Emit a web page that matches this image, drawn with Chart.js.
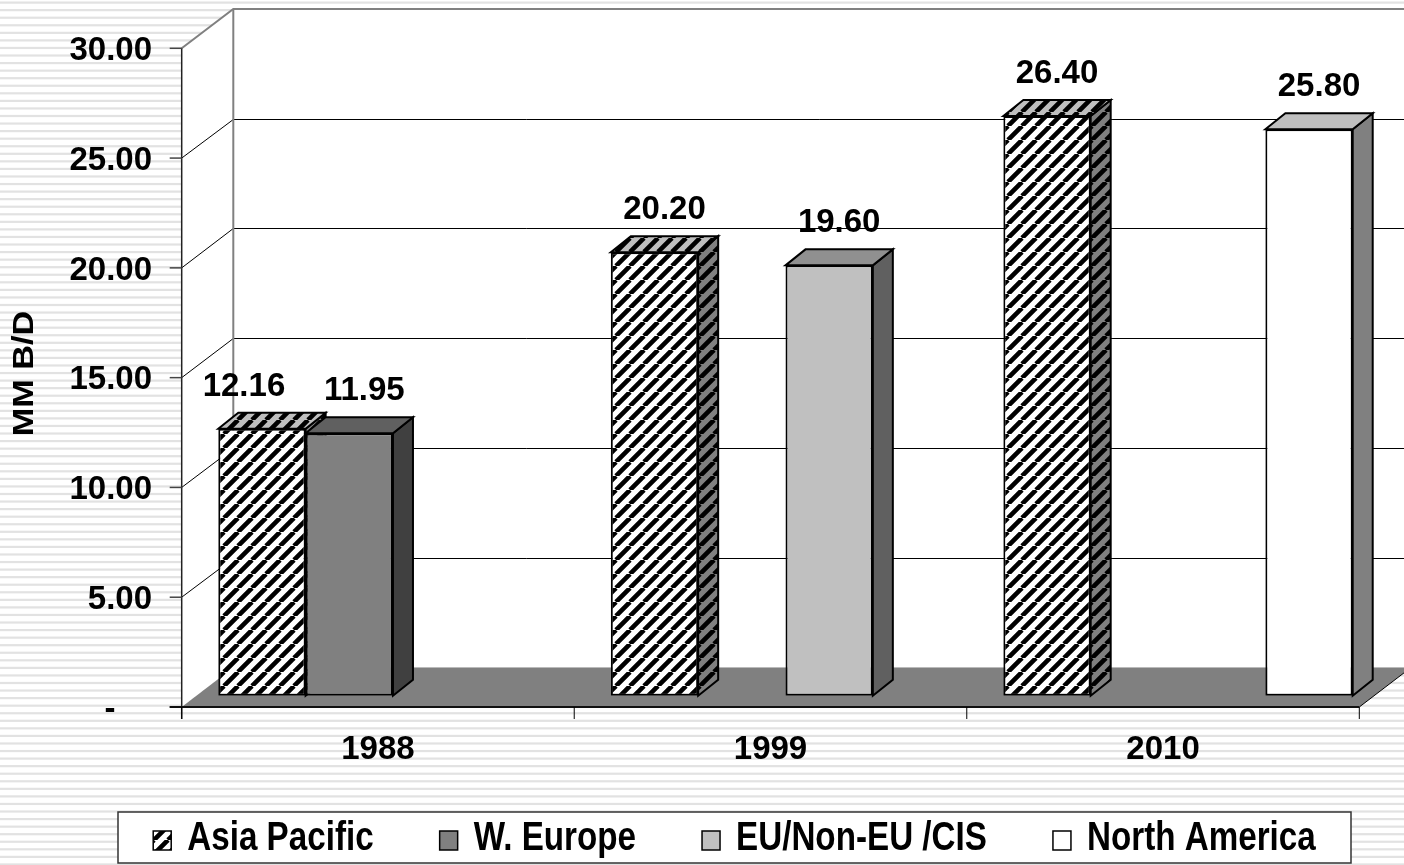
<!DOCTYPE html>
<html>
<head>
<meta charset="utf-8">
<script src="https://cdn.jsdelivr.net/npm/chart.js@4/dist/chart.umd.min.js"></script>
<style>
  html, body { margin: 0; padding: 0; background: #fff; overflow: hidden; }
  #wrap { position: relative; width: 1404px; height: 865px; }
</style>
</head>
<body>
<div id="wrap"><canvas id="c" width="1404" height="865"></canvas></div>
<script>
// ---- data ----
const categories = ['1988', '1999', '2010'];
const seriesNames = ['Asia Pacific', 'W. Europe', 'EU/Non-EU /CIS', 'North America'];
const asiaPacific = [12.16, 20.20, 26.40];
const westernEurope = [11.95, null, null];
const euNonEuCis = [null, 19.60, null];
const northAmerica = [null, null, 25.80];
const yTicks = [0, 5, 10, 15, 20, 25, 30];
const axisTitle = 'MM B/D';

// ---- style ----
const FONT = '"Liberation Sans", Arial, Helvetica, sans-serif';
const FRONT = { dx: -15, dy: 11.3 };     // front plane of the 3D box, relative to the bar plane
const BACK = { dx: 36.6, dy: -28.1 };    // back wall, relative to the bar plane
const BAR_DEPTH = { dx: 20, dy: -16 };   // depth of each column
const seriesBase = ['#ffffff', '#808080', '#c0c0c0', '#ffffff'];
const seriesHatched = [true, false, false, false];

const canvas = document.getElementById('c');
const ctx0 = canvas.getContext('2d');

function hatchPattern(bg) {
  const p = 14;
  const t = document.createElement('canvas');
  t.width = p; t.height = p;
  const g = t.getContext('2d');
  if (bg) { g.fillStyle = bg; g.fillRect(0, 0, p, p); }
  g.strokeStyle = '#000';
  g.lineWidth = 4.6;
  g.beginPath();
  for (let k = -1; k <= 1; k++) { g.moveTo(k * p, p); g.lineTo(k * p + p, 0); }
  g.stroke();
  return ctx0.createPattern(t, 'repeat');
}
const hatchWhite = hatchPattern('#ffffff');
const hatchOnly = hatchPattern(null);

function shade(hex, f) {
  const n = parseInt(hex.slice(1), 16);
  const r = Math.round(((n >> 16) & 255) * f), g = Math.round(((n >> 8) & 255) * f), b = Math.round((n & 255) * f);
  return `rgb(${r},${g},${b})`;
}
function frontFill(i) { return seriesHatched[i] ? hatchWhite : seriesBase[i]; }

function poly(ctx, pts) {
  ctx.beginPath();
  ctx.moveTo(pts[0][0], pts[0][1]);
  for (let k = 1; k < pts.length; k++) ctx.lineTo(pts[k][0], pts[k][1]);
  ctx.closePath();
}
function line(ctx, a, b) {
  ctx.beginPath(); ctx.moveTo(a[0], a[1]); ctx.lineTo(b[0], b[1]); ctx.stroke();
}
function tickText(v) { return v === 0 ? '-' : v.toFixed(2); }

const seriesData = [asiaPacific, westernEurope, euNonEuCis, northAmerica];

// walls, floor, gridlines, axes
const scenePlugin = {
  id: 'scene',
  beforeDraw(chart) {
    const ctx = chart.ctx, xs = chart.scales.x, ys = chart.scales.y;
    const W = chart.width, H = chart.height;
    const yMax = yTicks[yTicks.length - 1];
    const xl = xs.left, xr = xs.right;
    const F = (px, v) => [px + FRONT.dx, ys.getPixelForValue(v) + FRONT.dy];
    const B = (px, v) => [px + BACK.dx, ys.getPixelForValue(v) + BACK.dy];
    ctx.save();
    // striped page background
    ctx.fillStyle = '#ffffff';
    ctx.fillRect(0, 0, W, H);
    ctx.fillStyle = '#e2e2e2';
    for (let yy = 1.5; yy < H; yy += 7.56) ctx.fillRect(0, yy, W, 2.2);

    // back wall
    const b0 = B(xl, yMax), b1 = B(xr, 0);
    ctx.fillStyle = '#ffffff';
    ctx.fillRect(b0[0], b0[1], b1[0] - b0[0], b1[1] - b0[1]);
    // left wall
    poly(ctx, [F(xl, yMax), B(xl, yMax), B(xl, 0), F(xl, 0)]);
    ctx.fill();
    // floor
    ctx.fillStyle = '#808080';
    poly(ctx, [F(xl, 0), F(xr, 0), B(xr, 0), B(xl, 0)]);
    ctx.fill();

    // gridlines
    ctx.strokeStyle = '#000';
    ctx.lineWidth = 1;
    yTicks.forEach(v => {
      if (v <= 0 || v >= yMax) return;
      const yb = Math.round(B(xl, v)[1]) + 0.5;
      line(ctx, [B(xl, v)[0], yb], [B(xr, v)[0], yb]);
      line(ctx, F(xl, v), [B(xl, v)[0], yb]);
    });
    // floor right edge
    line(ctx, F(xr, 0), B(xr, 0));

    // wall outline
    ctx.strokeStyle = '#808080';
    ctx.lineWidth = 2;
    ctx.beginPath();
    const ft = F(xl, yMax), bt = B(xl, yMax);
    ctx.moveTo(ft[0], ft[1]);
    ctx.lineTo(bt[0], bt[1]);
    ctx.lineTo(B(xr, yMax)[0], bt[1]);
    ctx.stroke();
    line(ctx, bt, B(xl, 0));

    // value axis line and ticks
    const f0 = F(xl, 0);
    ctx.strokeStyle = '#222';
    ctx.lineWidth = 1.5;
    line(ctx, F(xl, yMax), [f0[0], f0[1] + 12]);
    ctx.strokeStyle = '#444';
    yTicks.forEach(v => {
      const p = F(xl, v);
      line(ctx, [p[0] - 12, p[1]], p);
    });
    // category axis line
    ctx.strokeStyle = '#111';
    ctx.lineWidth = 2;
    line(ctx, [f0[0] - 12, f0[1]], F(xr, 0));
    ctx.lineWidth = 1;
    ctx.strokeStyle = '#000';
    for (let i = 0; i <= categories.length; i++) {
      const px = xl + i * (xr - xl) / categories.length + FRONT.dx;
      line(ctx, [px, f0[1]], [px, f0[1] + 12]);
    }

    // value axis labels
    ctx.fillStyle = '#000';
    ctx.font = `bold 33px ${FONT}`;
    ctx.textBaseline = 'alphabetic';
    yTicks.forEach(v => {
      const p = F(xl, v);
      if (v === 0) {
        ctx.textAlign = 'center';
        ctx.fillText(tickText(v), 110, p[1] + 11.5);
      } else {
        ctx.textAlign = 'right';
        ctx.fillText(tickText(v), 152, p[1] + 11.7);
      }
    });
    // category labels
    ctx.textAlign = 'center';
    categories.forEach((c, i) => {
      ctx.fillText(c, xs.getPixelForValue(i) + FRONT.dx, f0[1] + 52);
    });
    // axis title
    ctx.save();
    ctx.translate(24, 373.5);
    ctx.rotate(-Math.PI / 2);
    ctx.scale(1.14, 1);
    ctx.font = `bold 30px ${FONT}`;
    ctx.textBaseline = 'middle';
    ctx.fillText(axisTitle, 0, 1);
    ctx.restore();
    ctx.restore();
  },
  beforeDatasetsDraw(chart) {
    // column tops and sides, left to right
    const ctx = chart.ctx;
    const bars = [];
    chart.data.datasets.forEach((ds, di) => {
      chart.getDatasetMeta(di).data.forEach((el, i) => {
        if (ds.data[i] == null) return;
        bars.push({ di, el: el.getProps(['x', 'y', 'base', 'width'], true) });
      });
    });
    bars.sort((a, b) => a.el.x - b.el.x);
    ctx.save();
    ctx.strokeStyle = '#000';
    ctx.lineWidth = 2;
    ctx.lineJoin = 'miter';
    bars.forEach(({ di, el }) => {
      const L = el.x - el.width / 2, R = el.x + el.width / 2;
      const dx = BAR_DEPTH.dx, dy = BAR_DEPTH.dy;
      const side = [[R, el.y], [R + dx, el.y + dy], [R + dx, el.base + dy], [R, el.base]];
      const top = [[L, el.y], [L + dx, el.y + dy], [R + dx, el.y + dy], [R, el.y]];
      [[side, 0.5], [top, 0.75]].forEach(([pts, f]) => {
        poly(ctx, pts);
        ctx.fillStyle = shade(seriesBase[di], f);
        ctx.fill();
        if (seriesHatched[di]) { ctx.fillStyle = hatchOnly; ctx.fill(); }
        ctx.stroke();
      });
    });
    ctx.restore();
  },
  afterDatasetsDraw(chart) {
    const ctx = chart.ctx;
    ctx.save();
    // value labels above each column
    ctx.fillStyle = '#000';
    ctx.font = `bold 33px ${FONT}`;
    ctx.textAlign = 'center';
    ctx.textBaseline = 'alphabetic';
    chart.data.datasets.forEach((ds, di) => {
      chart.getDatasetMeta(di).data.forEach((el, i) => {
        const v = ds.data[i];
        if (v == null) return;
        const next = chart.data.datasets[di + 1];
        const prev = chart.data.datasets[di - 1];
        let nudge = 0;
        if (next && next.data[i] != null) nudge -= 28;
        if (prev && prev.data[i] != null) nudge += 5;
        const p = el.getProps(['x', 'y'], true);
        ctx.fillText(v.toFixed(2), p.x + BAR_DEPTH.dx / 2 + nudge, p.y + BAR_DEPTH.dy - 17);
      });
    });

    // legend
    const bx = 118, by = 812, bw = 1233, bh = 51;
    ctx.fillStyle = '#ffffff';
    ctx.fillRect(bx, by, bw, bh);
    ctx.strokeStyle = '#333';
    ctx.lineWidth = 1.5;
    ctx.strokeRect(bx, by, bw, bh);
    const sx = 0.81, sw = 18, sh = 19, gapText = 16, gapItem = 66, baseline = 850;
    ctx.font = `bold 41px ${FONT}`;
    ctx.textAlign = 'left';
    const widths = seriesNames.map(n => ctx.measureText(n).width * sx);
    const total = widths.reduce((s, w) => s + sw + gapText + w, 0) + gapItem * (seriesNames.length - 1);
    let cx = bx + (bw - total) / 2;
    seriesNames.forEach((name, i) => {
      ctx.fillStyle = frontFill(i);
      ctx.fillRect(cx, baseline - sh, sw, sh);
      ctx.strokeStyle = '#000';
      ctx.lineWidth = 1.5;
      ctx.strokeRect(cx, baseline - sh, sw, sh);
      ctx.save();
      ctx.translate(cx + sw + gapText, baseline);
      ctx.scale(sx, 1);
      ctx.fillStyle = '#000';
      ctx.fillText(name, 0, 0);
      ctx.restore();
      cx += sw + gapText + widths[i] + gapItem;
    });
    ctx.restore();
  }
};

new Chart(canvas, {
  type: 'bar',
  data: {
    labels: categories,
    datasets: seriesNames.map((name, i) => ({
      label: name,
      data: seriesData[i],
      backgroundColor: frontFill(i),
      borderColor: '#000',
      borderWidth: 2,
      borderSkipped: false,
      categoryPercentage: 0.89,
      barPercentage: 1.0
    }))
  },
  options: {
    responsive: false,
    animation: false,
    devicePixelRatio: 1,
    layout: { padding: { left: 196.7, right: 29.7, top: 37, bottom: 169.3 } },
    scales: {
      x: { display: false, offset: true },
      y: { display: false, min: 0, max: 30, ticks: { stepSize: 5 } }
    },
    plugins: {
      legend: { display: false },
      tooltip: { enabled: false },
      title: { display: false }
    }
  },
  plugins: [scenePlugin]
});
</script>
</body>
</html>
